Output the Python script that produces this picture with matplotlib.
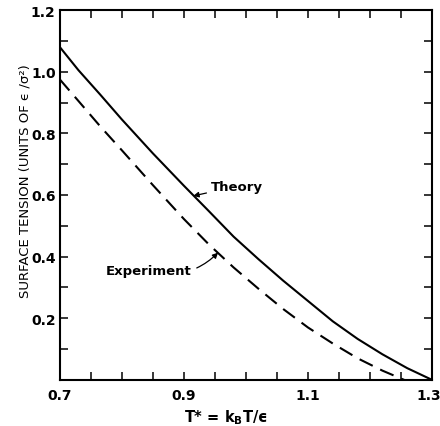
import matplotlib.pyplot as plt
import matplotlib.transforms as mtransforms
from matplotlib.ticker import MultipleLocator, FixedLocator

# reduced temperature and surface tension
t_theory = [0.70, 0.73, 0.765, 0.80, 0.85, 0.90, 0.94, 0.98, 1.02, 1.06, 1.10, 1.14, 1.18, 1.22, 1.26, 1.30]
g_theory = [1.08, 1.005, 0.926, 0.845, 0.735, 0.630, 0.548, 0.465, 0.392, 0.322, 0.256, 0.190, 0.133, 0.083, 0.038, 0.0]

t_expt = [0.70, 0.73, 0.765, 0.80, 0.85, 0.90, 0.94, 0.98, 1.02, 1.06, 1.10, 1.14, 1.18, 1.22, 1.255]
g_expt = [0.975, 0.905, 0.823, 0.745, 0.632, 0.522, 0.440, 0.365, 0.296, 0.230, 0.170, 0.118, 0.070, 0.030, 0.0]

x_labels = [0.7, 0.9, 1.1, 1.3]
y_labels = [0.2, 0.4, 0.6, 0.8, 1.0, 1.2]

plt.rcParams['font.family'] = 'DejaVu Sans'
plt.rcParams['font.weight'] = 'bold'
plt.rcParams['mathtext.default'] = 'bf'

fig = plt.figure(figsize=(4.4, 4.27), dpi=100)
ax = fig.add_axes([0.136, 0.108, 0.846, 0.866])

ax.plot(t_theory, g_theory, color='black', lw=1.5)
ax.plot(t_expt, g_expt, color='black', lw=1.5, dashes=(7, 4))

ax.set_xlim(0.7, 1.3)
ax.set_ylim(0.0, 1.2)

ax.xaxis.set_major_locator(FixedLocator(x_labels))
ax.xaxis.set_minor_locator(MultipleLocator(0.05))
ax.yaxis.set_major_locator(FixedLocator(y_labels))
ax.yaxis.set_minor_locator(MultipleLocator(0.1))
ax.set_xticklabels(['0.7', '0.9', '1.1', '1.3'])
ax.set_yticklabels(['0.2', '0.4', '0.6', '0.8', '1.0', '1.2'])
ax.tick_params(which='both', direction='in', top=True, right=True,
               length=6, width=1.1, labelsize=10)
ax.tick_params(axis='y', pad=3)
ax.tick_params(axis='x', pad=6)
for s in ax.spines.values():
    s.set_linewidth(1.5)

# nudge the last x label so it stays inside the figure
last = ax.get_xticklabels()[-1]
last.set_transform(last.get_transform() + mtransforms.ScaledTranslation(-3 / 100, 0, fig.dpi_scale_trans))

ax.set_xlabel('T* = k$_{B}$T/ϵ', fontsize=10.5, fontweight='bold')
ax.xaxis.set_label_coords(0.446, -0.074)
ax.set_ylabel('SURFACE TENSION (UNITS OF ϵ /σ²)', fontsize=9.5)
ax.yaxis.set_label_coords(-0.075, 0.54)

ax.annotate('Theory', xy=(0.915, 0.597), xytext=(0.943, 0.628),
            fontsize=9.5, va='center', ha='left',
            arrowprops=dict(arrowstyle='-|>', color='black', lw=0.9,
                            shrinkA=1, shrinkB=0, mutation_scale=8))
ax.annotate('Experiment', xy=(0.955, 0.413), xytext=(0.843, 0.356),
            fontsize=9.5, va='center', ha='center',
            arrowprops=dict(arrowstyle='-|>', color='black', lw=0.9,
                            shrinkA=2, shrinkB=0, mutation_scale=8,
                            connectionstyle='arc3,rad=0.3'))

fig.savefig('out.png', dpi=100)
